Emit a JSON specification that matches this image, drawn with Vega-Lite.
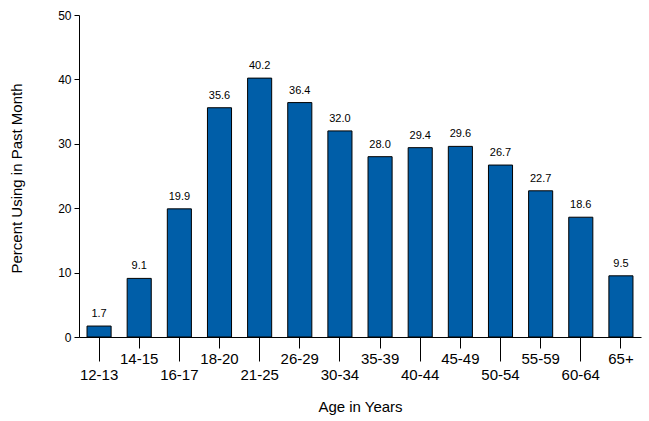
{
  "$schema": "https://vega.github.io/schema/vega-lite/v6.json",
  "autosize": {"type": "none"},
  "width": 562,
  "height": 322,
  "padding": {"left": 79, "top": 15, "right": 8, "bottom": 84},
  "background": "white",
  "config": {
    "view": {"stroke": null},
    "font": "Liberation Sans",
    "axis": {"labelColor": "black", "titleColor": "black", "domainColor": "black", "tickColor": "black", "titleFontWeight": "normal", "labelFont": "Liberation Sans", "titleFont": "Liberation Sans"}
  },
  "data": {
    "values": [
      {"age": "12-13", "pct": 1.7},
      {"age": "14-15", "pct": 9.1},
      {"age": "16-17", "pct": 19.9},
      {"age": "18-20", "pct": 35.6},
      {"age": "21-25", "pct": 40.2},
      {"age": "26-29", "pct": 36.4},
      {"age": "30-34", "pct": 32.0},
      {"age": "35-39", "pct": 28.0},
      {"age": "40-44", "pct": 29.4},
      {"age": "45-49", "pct": 29.6},
      {"age": "50-54", "pct": 26.7},
      {"age": "55-59", "pct": 22.7},
      {"age": "60-64", "pct": 18.6},
      {"age": "65+", "pct": 9.5}
    ]
  },
  "encoding": {
    "x": {
      "field": "age", "type": "nominal", "sort": null,
      "scale": {"paddingInner": 0.4, "paddingOuter": 0.2},
      "axis": {
        "title": "Age in Years", "titleFontSize": 15, "titleY": 74, "titleBaseline": "alphabetic",
        "labelAngle": 0, "labelFontSize": 15, "labelBaseline": "top",
        "tickSize": {"condition": {"test": "indexof(['12-13','16-17','21-25','30-34','40-44','50-54','60-64'], datum.value) >= 0", "value": 24}, "value": 11},
        "labelPadding": {"condition": {"test": "indexof(['12-13','16-17','21-25','30-34','40-44','50-54','60-64'], datum.value) >= 0", "value": 6}, "value": 3},
        "domainWidth": 1, "tickWidth": 1, "labelOverlap": false
      }
    },
    "y": {
      "field": "pct", "type": "quantitative",
      "scale": {"domain": [0, 50], "nice": false},
      "axis": {
        "title": "Percent Using in Past Month", "titleFontSize": 15, "values": [0, 10, 20, 30, 40, 50],
        "grid": false, "tickSize": 5, "labelPadding": 3, "labelFontSize": 12,
        "titleX": -63, "titleY": 163, "titleAlign": "center", "titleBaseline": "middle", "titleAngle": -90
      }
    }
  },
  "layer": [
    {"mark": {"type": "bar", "color": "#005EA8", "stroke": "black", "strokeWidth": 1}},
    {
      "mark": {"type": "text", "baseline": "alphabetic", "dy": -9, "fontSize": 11, "color": "black"},
      "encoding": {"text": {"field": "pct", "type": "quantitative", "format": ".1f"}}
    }
  ]
}
